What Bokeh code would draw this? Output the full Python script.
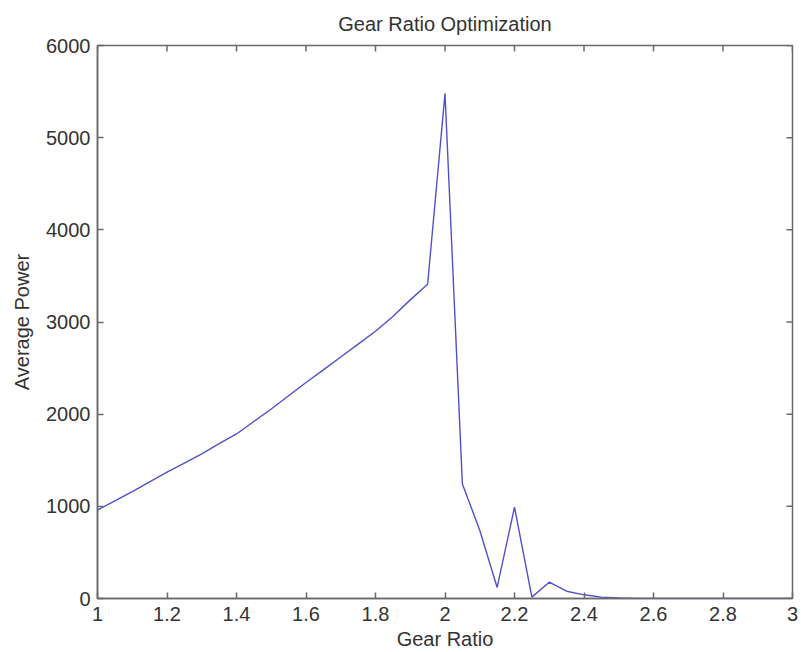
from bokeh.plotting import figure
from bokeh.models import Range1d, FixedTicker
from bokeh.embed import file_html
from bokeh.resources import INLINE

# Data
gear_ratio = [1.00, 1.05, 1.10, 1.15, 1.20, 1.25, 1.30, 1.35, 1.40, 1.45,
              1.50, 1.55, 1.60, 1.65, 1.70, 1.75, 1.80, 1.85, 1.90, 1.95,
              2.00, 2.05, 2.10, 2.15, 2.20, 2.25, 2.30, 2.35, 2.40, 2.45,
              2.50, 2.55, 2.60, 2.65, 2.70, 2.75, 2.80, 2.85, 2.90, 2.95, 3.00]
average_power = [960, 1060, 1160, 1265, 1370, 1470, 1570, 1680, 1785, 1920,
                 2056, 2200, 2344, 2480, 2620, 2760, 2900, 3060, 3240, 3410,
                 5480, 1243, 740, 120, 990, 15, 177, 79, 40, 15,
                 5, 0, 0, 0, 0, 0, 0, 0, 0, 0, 0]

x_ticks = [1.0, 1.2, 1.4, 1.6, 1.8, 2.0, 2.2, 2.4, 2.6, 2.8, 3.0]
x_tick_labels = ["1", "1.2", "1.4", "1.6", "1.8", "2", "2.2", "2.4", "2.6", "2.8", "3"]
y_ticks = [0, 1000, 2000, 3000, 4000, 5000, 6000]
y_tick_labels = ["0", "1000", "2000", "3000", "4000", "5000", "6000"]

FONT = "Liberation Sans"
AXIS_COLOR = "#6a6a6a"
TEXT_COLOR = "#333333"

p = figure(width=801, height=652, output_backend="svg", toolbar_location=None,
           x_range=Range1d(x_ticks[0], x_ticks[-1]),
           y_range=Range1d(y_ticks[0], y_ticks[-1]),
           min_border_left=97, min_border_right=9, min_border_top=44,
           min_border_bottom=54, title="Gear Ratio Optimization")

p.background_fill_color = "white"
p.border_fill_color = "white"
p.outline_line_color = AXIS_COLOR
p.outline_line_width = 1.5
p.xgrid.visible = False
p.ygrid.visible = False

p.title.align = "center"
p.title.text_font = FONT
p.title.text_font_size = "20px"
p.title.text_font_style = "normal"
p.title.text_color = TEXT_COLOR
p.title.standoff = 21

p.line(gear_ratio, average_power, line_color="#5050cc", line_width=1.4)

# inward ticks on the top and right edges of the box
p.ray(x=x_ticks, y=[y_ticks[-1]] * len(x_ticks), length=6, length_units="screen",
      angle=-90, angle_units="deg", line_color=AXIS_COLOR, line_width=1.5)
p.ray(x=[x_ticks[-1]] * len(y_ticks), y=y_ticks, length=6, length_units="screen",
      angle=180, angle_units="deg", line_color=AXIS_COLOR, line_width=1.5)


def style_axis(ax, ticks, labels):
    ax.ticker = FixedTicker(ticks=ticks)
    ax.major_label_overrides = {t: l for t, l in zip(ticks, labels)}
    ax.axis_line_color = AXIS_COLOR
    ax.axis_line_width = 1.5
    ax.major_tick_line_color = AXIS_COLOR
    ax.major_tick_line_width = 1.5
    ax.major_tick_in = 6
    ax.major_tick_out = 0
    ax.minor_tick_line_color = None
    ax.major_label_text_font = FONT
    ax.major_label_text_color = TEXT_COLOR
    ax.major_label_text_font_size = "20px"
    ax.axis_label_text_font = FONT
    ax.axis_label_text_font_size = "20px"
    ax.axis_label_text_font_style = "normal"
    ax.axis_label_text_color = TEXT_COLOR


xa = p.xaxis[0]
style_axis(xa, x_ticks, x_tick_labels)
xa.major_label_standoff = 8
xa.axis_label = "Gear Ratio"
xa.axis_label_standoff = 4

ya = p.yaxis[0]
style_axis(ya, y_ticks, y_tick_labels)
ya.major_label_standoff = 7
ya.axis_label = "Average Power"
ya.axis_label_standoff = 10

open("out.html", "w").write(file_html(p, INLINE))
